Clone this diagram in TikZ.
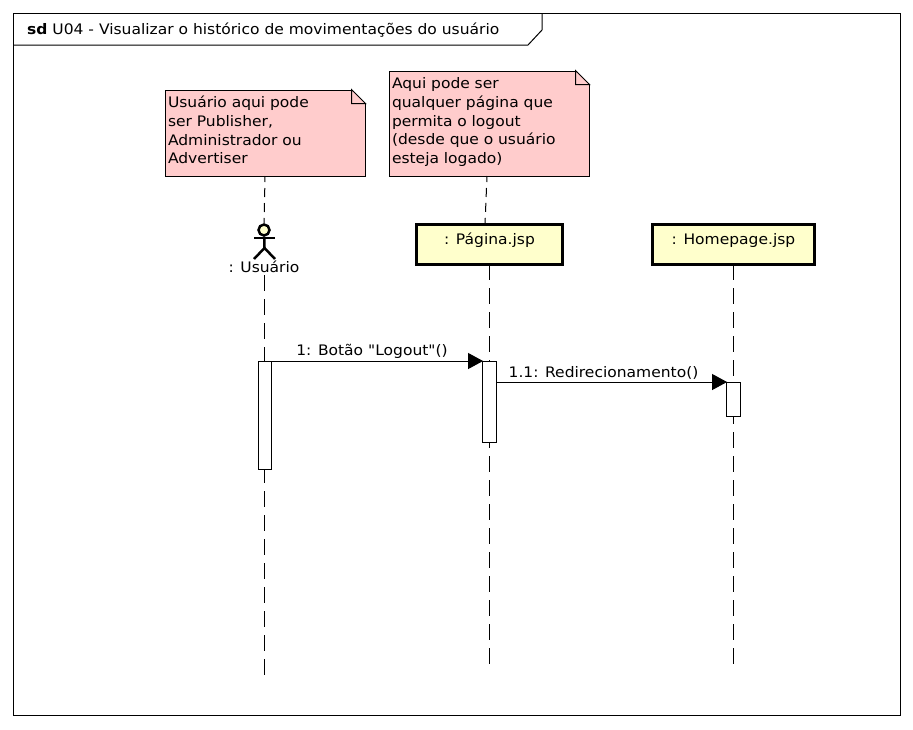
\documentclass[tikz,border=0pt]{standalone}
\usepackage{fontspec}
\setmainfont[FakeStretch=1.07,Ligatures=TeXOff]{DejaVu Sans}
\usepackage{xcolor}
\usetikzlibrary{arrows.meta, positioning, calc}
\definecolor{notered}{HTML}{FFCCCC}
\definecolor{lifeyellow}{HTML}{FFFFCC}

\begin{document}
\begin{tikzpicture}[
  x=1pt, y=-1pt,
  every node/.style={font=\fontsize{14.5}{18.7}\selectfont},
  notebox/.style={rectangle, fill=notered, minimum width=200pt, text width=194pt,
                  inner sep=3pt, align=left, anchor=north west, draw=black, line width=1pt},
  lifebox/.style={rectangle, draw=black, fill=lifeyellow, line width=2.5pt,
                  minimum height=40pt, text depth=12pt, text height=12pt, inner sep=0pt},
  actbox/.style={rectangle, draw=black, fill=white, line width=0.9pt, minimum width=13.5pt,
                 inner sep=0pt},
  msg/.style={-{Triangle[length=15pt,width=16pt]}, line width=1pt, shorten >=-1pt},
  life/.style={line width=1pt, dash pattern=on 16pt off 8pt},
  link/.style={line width=1pt, dash pattern=on 9pt off 6pt, dash phase=3pt},
  frameline/.style={line width=1pt}
]
\useasboundingbox (0,0) rectangle (913,729);

% frame
\node[draw=black, line width=1pt, minimum width=887pt, minimum height=702pt, inner sep=0pt, anchor=north west] (frm) at (13,13) {};
\coordinate (tabA) at (542,13);
\coordinate (tabB) at (542,30);
\coordinate (tabC) at (528,45);
\coordinate (tabD) at (13,45);
\draw[frameline] (tabA)--(tabB)--(tabC)--(tabD);
\node[anchor=west, inner sep=0pt] (ttl) at (27,30) {\textbf{sd} U04 - Visualizar o histórico de movimentações do usuário};

% lifeline heads
\node[lifebox, minimum width=146pt] (pag) at (489.5,244.5) {: Página.jsp};
\node[lifebox, minimum width=162pt, right=87.5pt of pag] (hom) {: Homepage.jsp};
\node[inner sep=0pt] (usr) at (264,267) {: Usuário};

% actor
\node[circle, draw=black, fill=lifeyellow, line width=2.5pt, minimum size=11pt, inner sep=0pt] (hd) at (264,230) {};
\coordinate (armL) at (254,238);
\coordinate (armR) at (275,238);
\coordinate (hip) at (264.5,248);
\coordinate (legL) at (254,259);
\coordinate (legR) at (275,259);
\draw[line width=2.5pt] (hd)--(hip); \draw[line width=2.5pt] (armL)--(armR);
\draw[line width=2.5pt] (legL)--(hip)--(legR);

% notes
\node[notebox, minimum height=86pt] (nt1) at (164.5,89.5) {Usuário aqui pode\\ser Publisher,\\Administrador ou\\Advertiser\par\kern6pt};
\node[notebox, minimum height=105pt] (nt2) at (388.5,70.5) {Aqui pode ser\\qualquer página que\\permita o logout\\(desde que o usuário\\esteja logado)\par\kern3pt};
\foreach \nt in {nt1,nt2}{
  \fill[white] ($(\nt.north east)+(-14,-0.5)$) -- ($(\nt.north east)+(0.5,-0.5)$) -- ($(\nt.north east)+(0.5,14)$) -- cycle;
  \draw[line width=1pt] ($(\nt.north east)+(-14,0)$) -- ($(\nt.north east)+(0,14)$) -- ($(\nt.north east)+(-14,14)$) -- cycle;
}

% links and lifelines
\coordinate (nt1b) at (265,176);
\coordinate (nt2b) at (487,176);
\draw[link] (nt1b)--(hd);
\draw[link] (nt2b)--(485,224);
\coordinate (usrS) at (264.5,275);
\coordinate (pagS) at (489.5,264);
\coordinate (homS) at (733.5,264);
\coordinate (usrE) at (264.5,675);
\coordinate (pagE) at (489.5,664);
\coordinate (homE) at (733.5,664);
\draw[life] (usrS)--(usrE);
\draw[life] (pagS)--(pagE);
\draw[life] (homS)--(homE);

% activations
\node[actbox, minimum height=108pt, anchor=north] (a1) at (264.75,361) {};
\node[actbox, minimum height=81pt, anchor=north] (a2) at (489.25,361) {};
\node[actbox, minimum height=34pt, anchor=north] (a3) at (733.25,382) {};

% messages
\draw[msg] (a1.north east)--(a2.north west);
\draw[msg] (a2.east |- a3.north)--(a3.north west);
\node[inner sep=0pt] (m1) at (372,351.5) {1: Botão "Logout"()};
\node[inner sep=0pt] (m2) at (603.5,373) {1.1: Redirecionamento()};
\end{tikzpicture}
\end{document}
